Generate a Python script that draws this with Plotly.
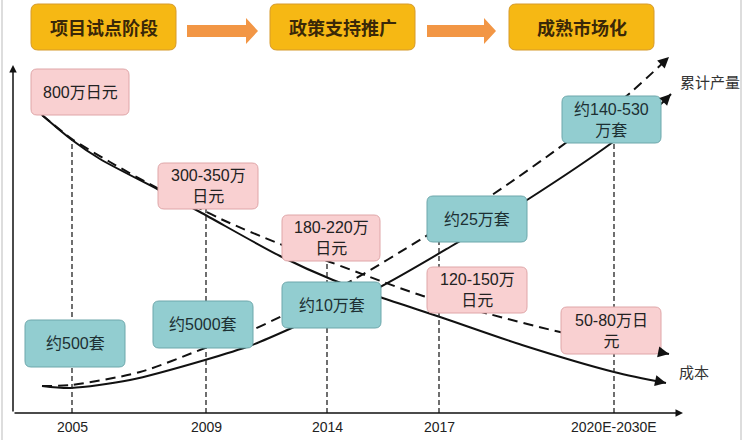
import math
import plotly.graph_objects as go

# ---- data ----
stages = ["项目试点阶段", "政策支持推广", "成熟市场化"]
years = ["2005", "2009", "2014", "2017", "2020E-2030E"]
cost_labels = ["800万日元", "300-350万<br>日元", "180-220万<br>日元", "120-150万<br>日元", "50-80万日<br>元"]
output_labels = ["约500套", "约5000套", "约10万套", "约25万套", "约140-530<br>万套"]

# curves (x to the right, y downward)
cost_solid_x = [42, 72, 100, 159, 200, 280, 333, 380, 443, 522, 614, 666]
cost_solid_y = [115, 140, 159, 190, 212, 256, 280, 297, 318, 345, 372, 383]
cost_dash_x = [42, 72, 110, 159, 195, 223, 280, 330, 370, 423, 489, 560, 669]
cost_dash_y = [115, 139, 162, 189, 206, 220, 244, 262, 277, 296, 314, 332, 354]
out_solid_x = [42, 71, 130, 205, 252, 294, 380, 450, 527, 613, 662, 671]
out_solid_y = [386, 388, 380, 360, 345, 327, 287, 247, 200, 142, 103, 94]
out_dash_x = [42, 71, 140, 205, 252, 282, 353, 423, 492, 567, 630, 669]
out_dash_y = [386, 385, 372, 348, 330, 316, 280, 238, 195, 142, 93, 57]

# ---- layout of the diagram ----
W, H = 744, 440
axis_x0, axis_y0 = 13, 413
year_x = [72, 206, 327, 439, 614]
guide_top = [140, 209, 261, 242, 143]
stage_boxes = [(31, 4, 176, 50), (270, 4, 415, 50), (509, 4, 654, 50)]
stage_arrows = [(187, 258), (427, 496)]
cost_boxes = [(31, 69, 129, 115), (158, 163, 258, 209), (282, 215, 380, 261),
              (427, 267, 527, 313), (561, 307, 661, 354)]
output_boxes = [(25, 320, 125, 367), (153, 301, 253, 348), (282, 282, 381, 328),
                (427, 196, 527, 242), (562, 96, 661, 143)]

FONT = "Liberation Sans, Arial, Noto Sans CJK SC"


def rrect(x0, y0, x1, y1, r=6):
    return (f"M{x0+r},{y0} L{x1-r},{y0} Q{x1},{y0} {x1},{y0+r} L{x1},{y1-r} "
            f"Q{x1},{y1} {x1-r},{y1} L{x0+r},{y1} Q{x0},{y1} {x0},{y1-r} "
            f"L{x0},{y0+r} Q{x0},{y0} {x0+r},{y0} Z")


fig = go.Figure()

# curves
for xs, ys, dash in [(cost_solid_x, cost_solid_y, "solid"), (cost_dash_x, cost_dash_y, "10px,6px"),
                     (out_solid_x, out_solid_y, "solid"), (out_dash_x, out_dash_y, "10px,6px")]:
    fig.add_trace(go.Scatter(x=xs, y=ys, mode="lines",
                             line=dict(color="#111111", width=2, dash=dash, shape="spline", smoothing=0.8),
                             hoverinfo="skip", showlegend=False))

shapes = []
annotations = []

# light frame edges
shapes.append(dict(type="line", x0=2, x1=2, y0=0, y1=H, line=dict(color="#dddddd", width=2), layer="below"))
shapes.append(dict(type="line", x0=741, x1=741, y0=0, y1=H, line=dict(color="#dddddd", width=2), layer="below"))

# vertical guide lines
for x, top in zip(year_x, guide_top):
    shapes.append(dict(type="line", x0=x, x1=x, y0=axis_y0, y1=top, layer="above",
                       line=dict(color="#222222", width=1.3, dash="5px,3px")))

# stage boxes and arrows
for (x0, y0, x1, y1), txt in zip(stage_boxes, stages):
    shapes.append(dict(type="path", path=rrect(x0, y0, x1, y1, 7), fillcolor="#f6b814",
                       line=dict(color="#d69a2a", width=1), layer="above"))
    annotations.append(dict(x=(x0 + x1) / 2, y=(y0 + y1) / 2, text=txt, showarrow=False,
                            font=dict(family="Noto Sans CJK SC", size=18, color="#3a2808", weight="bold")))
for xs, xe in stage_arrows:
    hx = xe - 12
    shapes.append(dict(type="path",
                       path=f"M{xs},25 L{hx},25 L{hx},18 L{xe},31 L{hx},44 L{hx},37 L{xs},37 Z",
                       fillcolor="#f29645", line=dict(width=0), layer="above"))

# cost boxes
for (x0, y0, x1, y1), txt in zip(cost_boxes, cost_labels):
    shapes.append(dict(type="path", path=rrect(x0, y0, x1, y1), fillcolor="#f9d0d1",
                       line=dict(color="#dfa6a8", width=1), layer="above"))
    annotations.append(dict(x=(x0 + x1) / 2, y=(y0 + y1) / 2, text=txt, showarrow=False,
                            font=dict(family=FONT, size=16, color="#222222")))

# output boxes
for (x0, y0, x1, y1), txt in zip(output_boxes, output_labels):
    shapes.append(dict(type="path", path=rrect(x0, y0, x1, y1), fillcolor="#92cdd0",
                       line=dict(color="#6da7ab", width=1), layer="above"))
    annotations.append(dict(x=(x0 + x1) / 2, y=(y0 + y1) / 2, text=txt, showarrow=False,
                            font=dict(family=FONT, size=16, color="#1d3033")))

# axes with arrows
annotations.append(dict(x=683, y=axis_y0, ax=axis_x0, ay=axis_y0, axref="x", ayref="y", text="",
                        showarrow=True, arrowhead=2, arrowsize=1, arrowwidth=1.5, arrowcolor="#111111"))
annotations.append(dict(x=axis_x0, y=65, ax=axis_x0, ay=axis_y0, axref="x", ayref="y", text="",
                        showarrow=True, arrowhead=2, arrowsize=1, arrowwidth=1.5, arrowcolor="#111111"))

# curve arrowheads (short stub along the last segment)
for xs, ys in [(cost_solid_x, cost_solid_y), (cost_dash_x, cost_dash_y),
               (out_solid_x, out_solid_y), (out_dash_x, out_dash_y)]:
    dx, dy = xs[-1] - xs[-2], ys[-1] - ys[-2]
    n = math.hypot(dx, dy)
    annotations.append(dict(x=xs[-1], y=ys[-1], ax=xs[-1] - 7 * dx / n, ay=ys[-1] - 7 * dy / n,
                            axref="x", ayref="y", text="",
                            showarrow=True, arrowhead=2, arrowsize=1.1, arrowwidth=2, arrowcolor="#111111",
                            standoff=0))

# year labels
for x, yr in zip(year_x, years):
    annotations.append(dict(x=x, y=427, text=yr, showarrow=False,
                            font=dict(family=FONT, size=14, color="#222222")))

# curve names
annotations.append(dict(x=678, y=81, text="累计产量", showarrow=False, xanchor="left",
                        font=dict(family="Noto Sans CJK SC", size=15, color="#333333")))
annotations.append(dict(x=677, y=371, text="成本", showarrow=False, xanchor="left",
                        font=dict(family="Noto Sans CJK SC", size=15, color="#333333")))

fig.update_layout(
    width=W, height=H, margin=dict(l=0, r=0, t=0, b=0),
    paper_bgcolor="white", plot_bgcolor="white",
    xaxis=dict(range=[0, W], visible=False, fixedrange=True),
    yaxis=dict(range=[H, 0], visible=False, fixedrange=True),
    shapes=shapes, annotations=annotations, showlegend=False,
)

fig.write_html("out.html", config={"displayModeBar": False},
               post_script="document.body.style.margin='0';")
